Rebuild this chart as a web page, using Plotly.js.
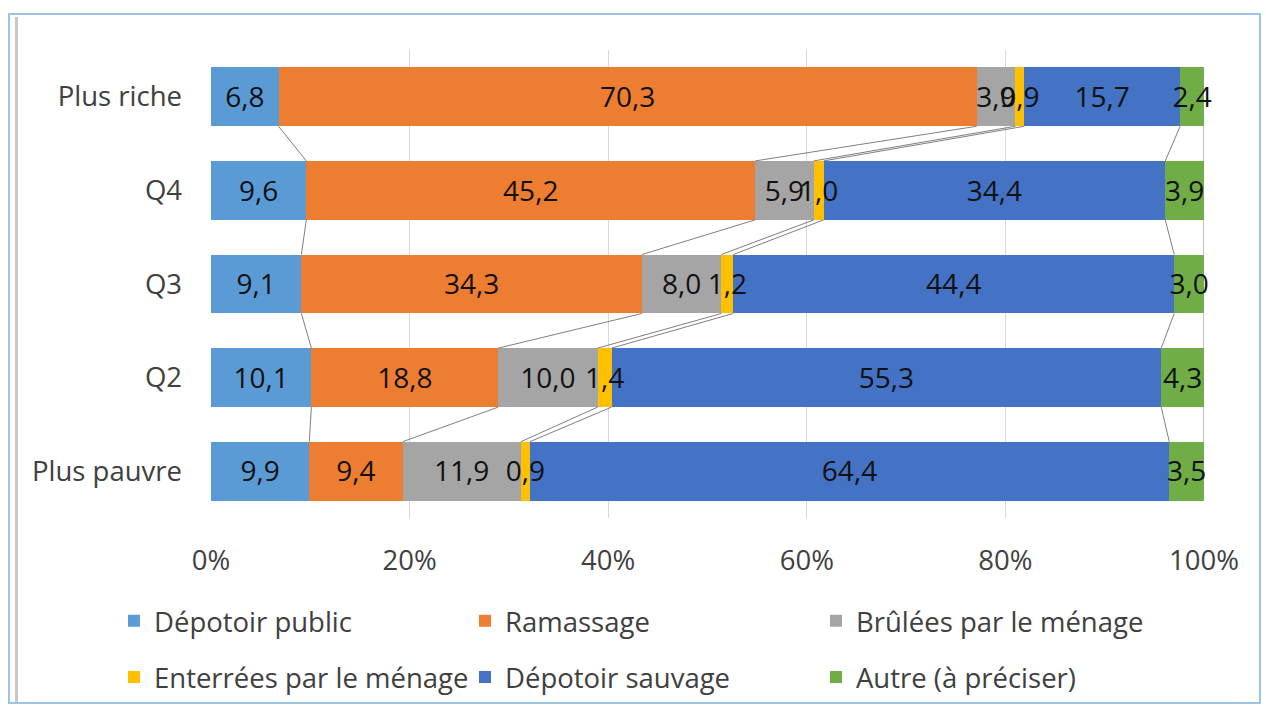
<!DOCTYPE html>
<html>
<head>
<meta charset="utf-8">
<script src="https://cdn.plot.ly/plotly-3.0.1.min.js"></script>
<style>
  html, body { margin: 0; padding: 0; background: #ffffff; }
  #wrap { position: relative; width: 1266px; height: 708px; overflow: hidden; }
  #chart { width: 1266px; height: 708px; }
  #frame { position: absolute; left: 8px; top: 13px; width: 1253px; height: 691px;
           border: 2px solid #9DC3E6; box-sizing: border-box; pointer-events: none; }
  #shadow { position: absolute; left: 15px; top: 17px; width: 3px; height: 685px;
            background: #C8C8C8; pointer-events: none; }
</style>
</head>
<body>
<div id="wrap">
  <div id="chart"></div>
  <div id="frame"></div>
  <div id="shadow"></div>
</div>
<script>
// ---- data ----
const categories = ['Plus riche', 'Q4', 'Q3', 'Q2', 'Plus pauvre'];
const seriesNames = ['Dépotoir public', 'Ramassage', 'Brûlées par le ménage',
                     'Enterrées par le ménage', 'Dépotoir sauvage', 'Autre (à préciser)'];
const depotoirPublic = [6.8, 9.6, 9.1, 10.1, 9.9];
const ramassage      = [70.3, 45.2, 34.3, 18.8, 9.4];
const brulees        = [3.9, 5.9, 8.0, 10.0, 11.9];
const enterrees      = [0.9, 1.0, 1.2, 1.4, 0.9];
const sauvage        = [15.7, 34.4, 44.4, 55.3, 64.4];
const autre          = [2.4, 3.9, 3.0, 4.3, 3.5];
const xTickVals  = [0, 20, 40, 60, 80, 100];
const xTickText  = ['0%', '20%', '40%', '60%', '80%', '100%'];
const colors = ['#5B9BD5', '#ED7D31', '#A5A5A5', '#FFC000', '#4472C4', '#70AD47'];

const series = [depotoirPublic, ramassage, brulees, enterrees, sauvage, autre];
const yIdx = categories.map((c, i) => i);
const BW = 0.63;
const FONT = '"Open Sans", "Noto Sans", sans-serif';

// normalized (100% stacked) values
const totals = categories.map((c, i) => series.reduce((s, a) => s + a[i], 0));
const norm = series.map(a => a.map((v, i) => v / totals[i] * 100));
const cum = [];
norm.forEach((a, k) => cum.push(a.map((v, i) => (k ? cum[k - 1][i] : 0) + v)));

const traces = [];
series.forEach((a, k) => {
  traces.push({
    type: 'bar', orientation: 'h', name: seriesNames[k],
    y: yIdx, x: a, width: BW,
    marker: { color: colors[k], line: { width: 0 } },
    hoverinfo: 'skip',
    legend: k < 3 ? 'legend' : 'legend2'
  });
});

// series lines
const lx = [], ly = [];
for (let k = 0; k < series.length; k++) {
  for (let i = 0; i < categories.length - 1; i++) {
    lx.push(cum[k][i], cum[k][i + 1], null);
    ly.push(i + BW / 2, i + 1 - BW / 2, null);
  }
}
traces.push({
  type: 'scatter', mode: 'lines', x: lx, y: ly,
  line: { color: '#7F7F7F', width: 1 }, showlegend: false, hoverinfo: 'skip'
});

// data labels
const tx = [], ty = [], tt = [];
series.forEach((a, k) => {
  a.forEach((v, i) => {
    tx.push(cum[k][i] - norm[k][i] / 2);
    ty.push(i + 0.035);
    tt.push(v.toFixed(1).replace('.', ','));
  });
});
traces.push({
  type: 'scatter', mode: 'text', x: tx, y: ty, text: tt,
  textposition: 'middle center',
  textfont: { family: FONT, size: 28, color: '#111111' },
  showlegend: false, hoverinfo: 'skip', cliponaxis: false
});

const legendCommon = {
  orientation: 'h', xanchor: 'left', yanchor: 'middle',
  entrywidth: 306, entrywidthmode: 'pixels', traceorder: 'normal',
  font: { family: FONT, size: 27.5, color: '#404040' },
  bgcolor: 'rgba(0,0,0,0)'
};

const layout = {
  width: 1266, height: 708,
  margin: { l: 211, r: 62, t: 50, b: 190, autoexpand: false },
  paper_bgcolor: '#ffffff', plot_bgcolor: '#ffffff',
  barmode: 'stack', barnorm: 'percent',
  font: { family: FONT, size: 27.5, color: '#404040' },
  showlegend: true,
  xaxis: {
    range: [0, 100], tickvals: xTickVals, ticktext: xTickText,
    showgrid: true, gridcolor: '#D9D9D9', gridwidth: 1,
    zeroline: false, showline: false, ticks: '',
    ticklabelstandoff: 23, fixedrange: true, automargin: false,
    tickfont: { family: FONT, size: 27.5, color: '#404040' }
  },
  yaxis: {
    range: [4.5, -0.5], tickvals: yIdx, ticktext: categories,
    showgrid: false, zeroline: false, showline: false, ticks: '',
    ticklabelstandoff: 28, fixedrange: true, automargin: false,
    tickfont: { family: FONT, size: 27.5, color: '#404040' }
  },
  legend: Object.assign({ x: -0.0977, y: -0.22 }, legendCommon),
  legend2: Object.assign({ x: -0.0977, y: -0.34 }, legendCommon)
};

Plotly.newPlot('chart', traces, layout, { displayModeBar: false, staticPlot: true });
</script>
</body>
</html>
